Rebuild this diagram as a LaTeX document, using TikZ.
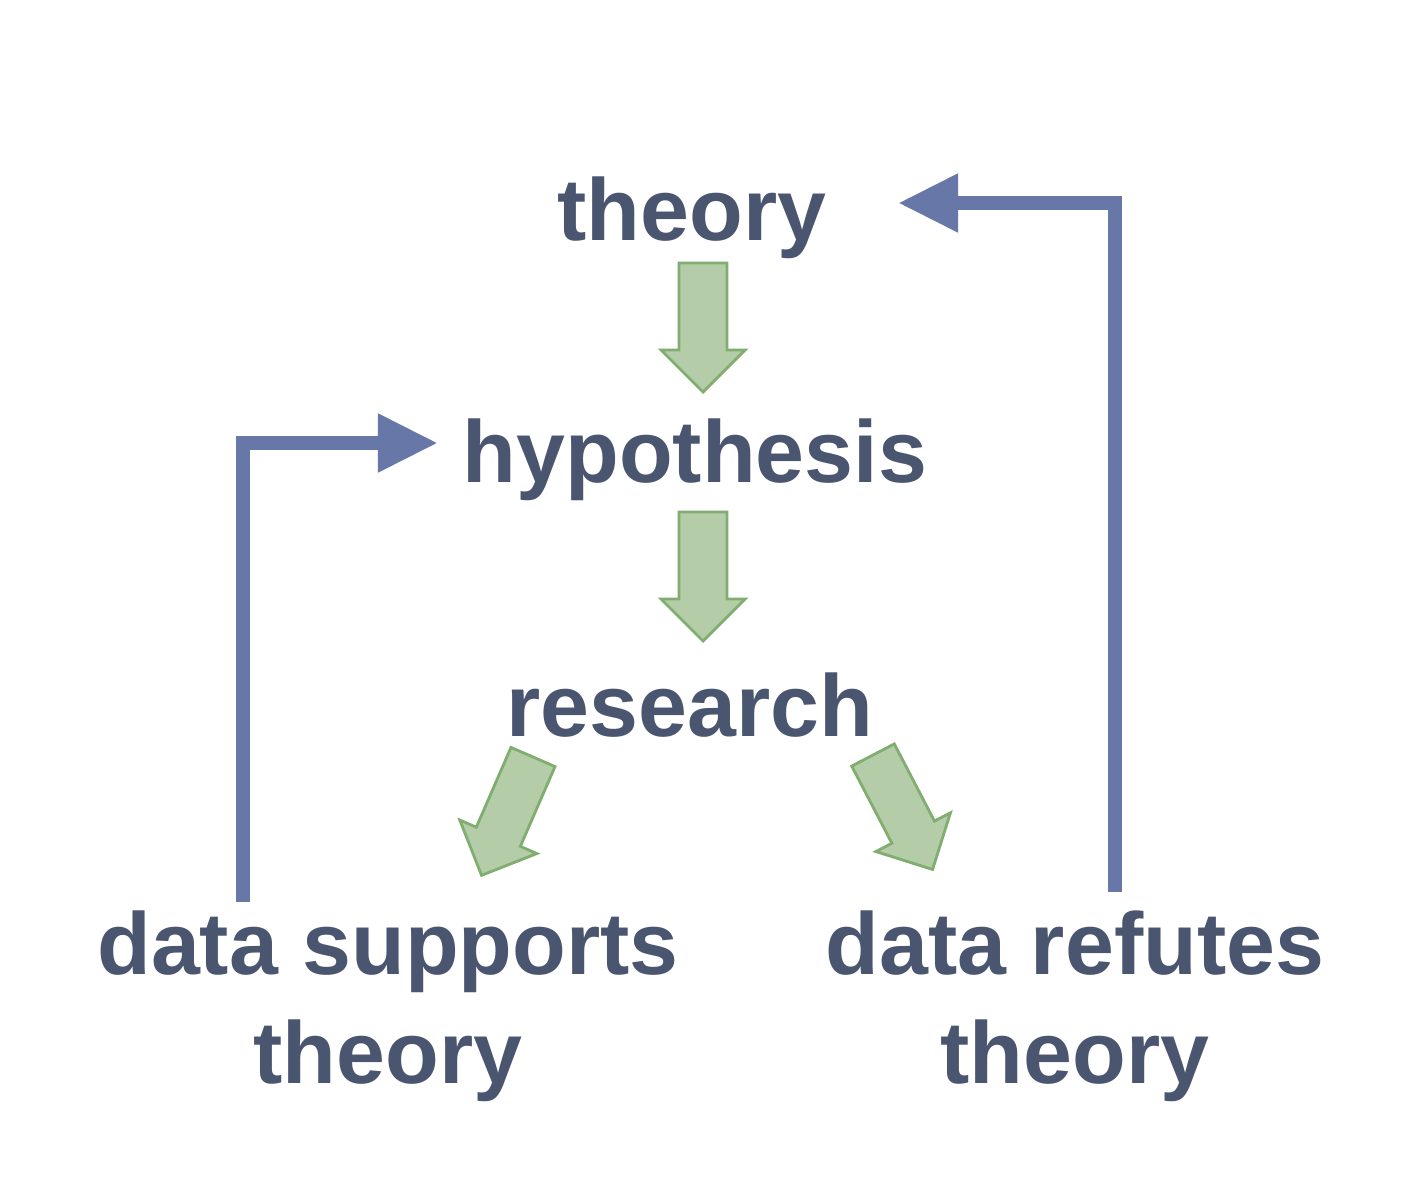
\documentclass[tikz,border=0pt]{standalone}
\usepackage{fontspec}
\setmainfont{Liberation Sans}
\usetikzlibrary{arrows.meta}
\definecolor{txt}{HTML}{4A5570}
\definecolor{blu}{HTML}{6677A8}
\definecolor{gfill}{HTML}{B5CCA8}
\definecolor{gline}{HTML}{80AE70}
\begin{document}
\begin{tikzpicture}[x=0.01cm,y=-0.01cm,
  lbl/.style={font=\fontsize{25}{30}\selectfont\bfseries, text=txt, inner sep=0pt, align=center},
  lbl2/.style={lbl, font=\fontsize{25}{31}\selectfont\bfseries},
  loop/.style={draw=blu, line width=0.14cm, -{Triangle[length=0.6cm,width=0.55cm]}},
  garrow/.style={fill=gfill, draw=gline, line width=0.8pt}]
\useasboundingbox (0,0) rectangle (1401,1200);
\fill[white] (0,0) rectangle (1401,1200);
\node[lbl] (th) at (692,218) {theory};
\node[lbl] (hy) at (695,460) {hypothesis};
\node[lbl] (re) at (690,705) {research};
\node[lbl2] (ds) at (388,1006) {data supports\\theory};
\node[lbl2] (dr) at (1075,1006) {data refutes\\theory};
\newcommand{\garr}{(-24,0) -- (24,0) -- (24,87) -- (42,87) -- (0,129) -- (-42,87) -- (-24,87) -- cycle}
\begin{scope}[shift={(703,263)}] \path[garrow] \garr; \end{scope}
\begin{scope}[shift={(703,512)}] \path[garrow] \garr; \end{scope}
\begin{scope}[shift={(533,757)},rotate=-23.5] \path[garrow] \garr; \end{scope}
\begin{scope}[shift={(873,755)},rotate=27.5] \path[garrow] \garr; \end{scope}
\coordinate (a1) at (243,902);
\coordinate (a2) at (243,443);
\coordinate (b1) at (1115,892);
\coordinate (b2) at (1115,203);
\draw[loop] (a1) -- (a2) -- (438,443);
\draw[loop] (b1) -- (b2) -- (898,203);
\end{tikzpicture}
\end{document}
